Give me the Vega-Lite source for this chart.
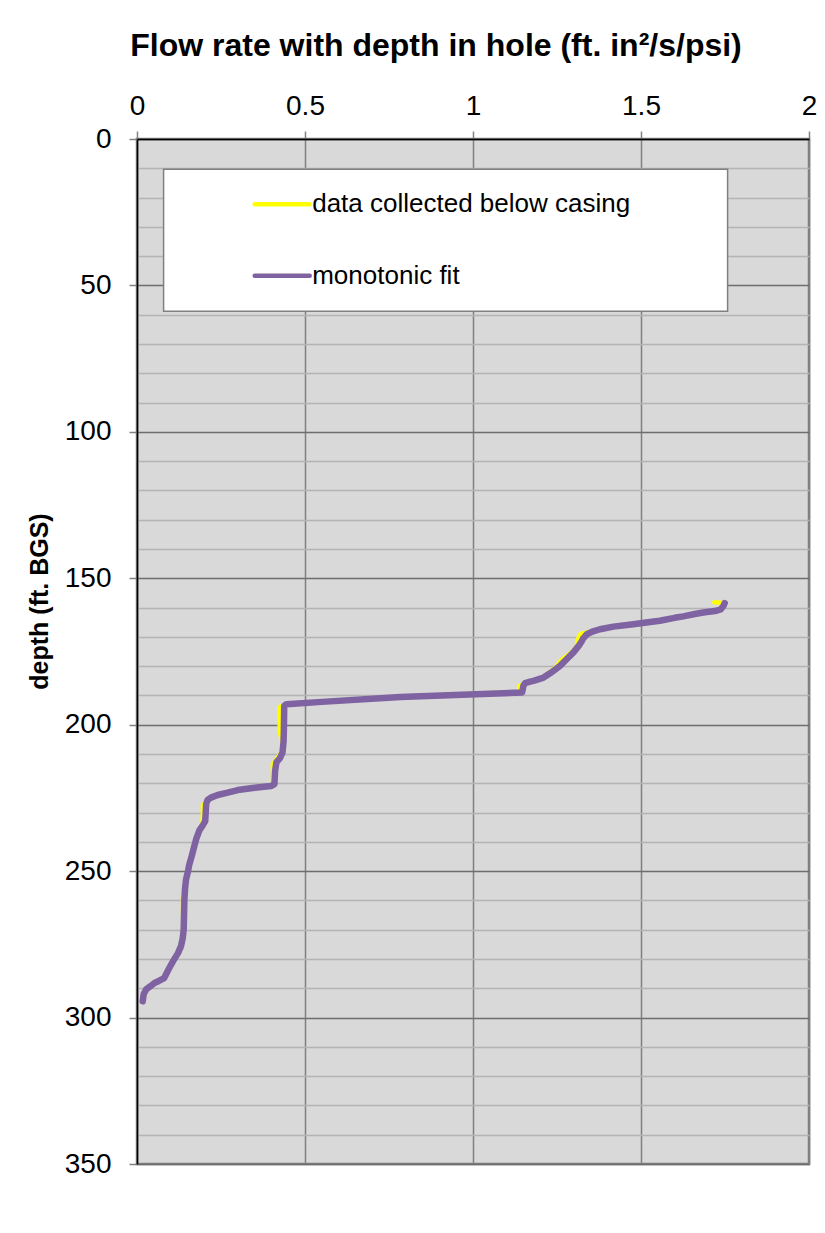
{
  "$schema": "https://vega.github.io/schema/vega-lite/v6.json",
  "autosize": {"type": "none"},
  "padding": {"left": 137, "top": 139, "right": 16, "bottom": 69},
  "width": 672,
  "height": 1025,
  "background": "white",
  "config": {
    "font": "Liberation Sans, Arial, sans-serif",
    "view": {"fill": "#D9D9D9", "stroke": "#808080", "strokeWidth": 2.5}
  },
  "title": {
    "text": "Flow rate with depth in hole (ft. in²/s/psi)",
    "fontSize": 32,
    "fontWeight": "bold",
    "color": "black",
    "anchor": "middle",
    "frame": "group",
    "baseline": "alphabetic",
    "offset": 4,
    "dx": -37
  },
  "data": {
    "values": [
      {"series": "data collected below casing", "depth": 158.2, "flow": 1.718},
      {"series": "data collected below casing", "depth": 158.4, "flow": 1.745},
      {"series": "data collected below casing", "depth": 159.5, "flow": 1.745},
      {"series": "data collected below casing", "depth": 160.6, "flow": 1.737},
      {"series": "data collected below casing", "depth": 161.2, "flow": 1.72},
      {"series": "data collected below casing", "depth": 161.6, "flow": 1.69},
      {"series": "data collected below casing", "depth": 162.2, "flow": 1.66},
      {"series": "data collected below casing", "depth": 163.0, "flow": 1.626},
      {"series": "data collected below casing", "depth": 164.5, "flow": 1.556},
      {"series": "data collected below casing", "depth": 165.7, "flow": 1.477},
      {"series": "data collected below casing", "depth": 166.5, "flow": 1.418},
      {"series": "data collected below casing", "depth": 167.4, "flow": 1.378},
      {"series": "data collected below casing", "depth": 168.2, "flow": 1.35},
      {"series": "data collected below casing", "depth": 169.0, "flow": 1.32},
      {"series": "data collected below casing", "depth": 171.4, "flow": 1.31},
      {"series": "data collected below casing", "depth": 173.0, "flow": 1.31},
      {"series": "data collected below casing", "depth": 175.3, "flow": 1.294},
      {"series": "data collected below casing", "depth": 178.0, "flow": 1.262},
      {"series": "data collected below casing", "depth": 180.2, "flow": 1.248},
      {"series": "data collected below casing", "depth": 183.9, "flow": 1.21},
      {"series": "data collected below casing", "depth": 185.3, "flow": 1.17},
      {"series": "data collected below casing", "depth": 186.8, "flow": 1.137},
      {"series": "data collected below casing", "depth": 188.8, "flow": 1.14},
      {"series": "data collected below casing", "depth": 190.5, "flow": 0.784},
      {"series": "data collected below casing", "depth": 193.0, "flow": 0.44},
      {"series": "data collected below casing", "depth": 194.0, "flow": 0.424},
      {"series": "data collected below casing", "depth": 202.3, "flow": 0.425},
      {"series": "data collected below casing", "depth": 206.0, "flow": 0.432},
      {"series": "data collected below casing", "depth": 209.5, "flow": 0.43},
      {"series": "data collected below casing", "depth": 213.5, "flow": 0.404},
      {"series": "data collected below casing", "depth": 217.0, "flow": 0.405},
      {"series": "data collected below casing", "depth": 220.9, "flow": 0.405},
      {"series": "data collected below casing", "depth": 222.3, "flow": 0.3},
      {"series": "data collected below casing", "depth": 224.9, "flow": 0.22},
      {"series": "data collected below casing", "depth": 227.5, "flow": 0.196},
      {"series": "data collected below casing", "depth": 230.5, "flow": 0.196},
      {"series": "data collected below casing", "depth": 234.5, "flow": 0.195},
      {"series": "data collected below casing", "depth": 239.1, "flow": 0.176},
      {"series": "data collected below casing", "depth": 244.8, "flow": 0.163},
      {"series": "data collected below casing", "depth": 252.8, "flow": 0.146},
      {"series": "data collected below casing", "depth": 258.6, "flow": 0.137},
      {"series": "data collected below casing", "depth": 264.0, "flow": 0.137},
      {"series": "data collected below casing", "depth": 269.9, "flow": 0.139},
      {"series": "data collected below casing", "depth": 275.6, "flow": 0.131},
      {"series": "data collected below casing", "depth": 280.8, "flow": 0.107},
      {"series": "data collected below casing", "depth": 286.5, "flow": 0.081},
      {"series": "data collected below casing", "depth": 288.2, "flow": 0.052},
      {"series": "data collected below casing", "depth": 290.4, "flow": 0.027},
      {"series": "data collected below casing", "depth": 294.4, "flow": 0.017},

      {"series": "monotonic fit", "depth": 158.5, "flow": 1.749},
      {"series": "monotonic fit", "depth": 159.5, "flow": 1.745},
      {"series": "monotonic fit", "depth": 160.6, "flow": 1.737},
      {"series": "monotonic fit", "depth": 161.2, "flow": 1.72},
      {"series": "monotonic fit", "depth": 161.6, "flow": 1.69},
      {"series": "monotonic fit", "depth": 162.2, "flow": 1.66},
      {"series": "monotonic fit", "depth": 163.0, "flow": 1.626},
      {"series": "monotonic fit", "depth": 163.5, "flow": 1.6},
      {"series": "monotonic fit", "depth": 164.5, "flow": 1.556},
      {"series": "monotonic fit", "depth": 165.2, "flow": 1.51},
      {"series": "monotonic fit", "depth": 165.7, "flow": 1.477},
      {"series": "monotonic fit", "depth": 166.5, "flow": 1.418},
      {"series": "monotonic fit", "depth": 167.4, "flow": 1.378},
      {"series": "monotonic fit", "depth": 168.2, "flow": 1.355},
      {"series": "monotonic fit", "depth": 169.1, "flow": 1.339},
      {"series": "monotonic fit", "depth": 170.5, "flow": 1.328},
      {"series": "monotonic fit", "depth": 171.4, "flow": 1.324},
      {"series": "monotonic fit", "depth": 173.0, "flow": 1.315},
      {"series": "monotonic fit", "depth": 175.3, "flow": 1.299},
      {"series": "monotonic fit", "depth": 177.5, "flow": 1.28},
      {"series": "monotonic fit", "depth": 179.9, "flow": 1.259},
      {"series": "monotonic fit", "depth": 182.0, "flow": 1.235},
      {"series": "monotonic fit", "depth": 183.9, "flow": 1.21},
      {"series": "monotonic fit", "depth": 185.0, "flow": 1.18},
      {"series": "monotonic fit", "depth": 185.3, "flow": 1.17},
      {"series": "monotonic fit", "depth": 185.8, "flow": 1.155},
      {"series": "monotonic fit", "depth": 186.7, "flow": 1.15},
      {"series": "monotonic fit", "depth": 188.0, "flow": 1.148},
      {"series": "monotonic fit", "depth": 189.0, "flow": 1.146},
      {"series": "monotonic fit", "depth": 190.5, "flow": 0.784},
      {"series": "monotonic fit", "depth": 192.2, "flow": 0.55},
      {"series": "monotonic fit", "depth": 193.0, "flow": 0.445},
      {"series": "monotonic fit", "depth": 193.6, "flow": 0.438},
      {"series": "monotonic fit", "depth": 195.0, "flow": 0.438},
      {"series": "monotonic fit", "depth": 202.6, "flow": 0.437},
      {"series": "monotonic fit", "depth": 206.0, "flow": 0.436},
      {"series": "monotonic fit", "depth": 209.5, "flow": 0.433},
      {"series": "monotonic fit", "depth": 211.5, "flow": 0.425},
      {"series": "monotonic fit", "depth": 212.8, "flow": 0.415},
      {"series": "monotonic fit", "depth": 215.8, "flow": 0.411},
      {"series": "monotonic fit", "depth": 220.3, "flow": 0.409},
      {"series": "monotonic fit", "depth": 220.9, "flow": 0.4},
      {"series": "monotonic fit", "depth": 221.5, "flow": 0.35},
      {"series": "monotonic fit", "depth": 222.3, "flow": 0.3},
      {"series": "monotonic fit", "depth": 223.2, "flow": 0.27},
      {"series": "monotonic fit", "depth": 224.0, "flow": 0.24},
      {"series": "monotonic fit", "depth": 224.9, "flow": 0.22},
      {"series": "monotonic fit", "depth": 225.7, "flow": 0.21},
      {"series": "monotonic fit", "depth": 227.0, "flow": 0.206},
      {"series": "monotonic fit", "depth": 232.9, "flow": 0.203},
      {"series": "monotonic fit", "depth": 234.5, "flow": 0.195},
      {"series": "monotonic fit", "depth": 236.0, "flow": 0.186},
      {"series": "monotonic fit", "depth": 239.1, "flow": 0.176},
      {"series": "monotonic fit", "depth": 244.8, "flow": 0.163},
      {"series": "monotonic fit", "depth": 248.0, "flow": 0.155},
      {"series": "monotonic fit", "depth": 250.0, "flow": 0.152},
      {"series": "monotonic fit", "depth": 252.8, "flow": 0.146},
      {"series": "monotonic fit", "depth": 256.0, "flow": 0.143},
      {"series": "monotonic fit", "depth": 259.7, "flow": 0.141},
      {"series": "monotonic fit", "depth": 265.0, "flow": 0.14},
      {"series": "monotonic fit", "depth": 269.9, "flow": 0.139},
      {"series": "monotonic fit", "depth": 273.0, "flow": 0.136},
      {"series": "monotonic fit", "depth": 275.6, "flow": 0.131},
      {"series": "monotonic fit", "depth": 278.0, "flow": 0.122},
      {"series": "monotonic fit", "depth": 280.8, "flow": 0.107},
      {"series": "monotonic fit", "depth": 283.5, "flow": 0.094},
      {"series": "monotonic fit", "depth": 286.5, "flow": 0.081},
      {"series": "monotonic fit", "depth": 287.5, "flow": 0.065},
      {"series": "monotonic fit", "depth": 288.2, "flow": 0.052},
      {"series": "monotonic fit", "depth": 289.3, "flow": 0.04},
      {"series": "monotonic fit", "depth": 290.4, "flow": 0.027},
      {"series": "monotonic fit", "depth": 292.0, "flow": 0.02},
      {"series": "monotonic fit", "depth": 294.4, "flow": 0.017}
    ]
  },
  "encoding": {
    "x": {
      "field": "flow",
      "type": "quantitative",
      "scale": {"domain": [0, 2], "nice": false, "zero": false},
      "axis": {
        "orient": "top",
        "title": null,
        "values": [0, 0.5, 1, 1.5, 2],
        "format": "~g",
        "labelFlush": false,
        "labelOverlap": false,
        "labelFontSize": 28,
        "labelColor": "black",
        "labelBaseline": "alphabetic",
        "labelPadding": 17,
        "tickSize": 8,
        "tickColor": "#808080",
        "tickWidth": 1.5,
        "domainColor": "black",
        "domainWidth": 1.5,
        "grid": true,
        "gridColor": "#808080",
        "gridWidth": 1.5,
        "gridOpacity": 1
      }
    },
    "y": {
      "field": "depth",
      "type": "quantitative",
      "scale": {"domain": [0, 350], "reverse": true, "nice": false, "zero": false},
      "axis": {
        "orient": "left",
        "title": "depth (ft. BGS)",
        "titleFontSize": 25,
        "titleFontWeight": "bold",
        "titleColor": "black",
        "titleAngle": 270,
        "titleAlign": "center",
        "titleBaseline": "middle",
        "titleX": -98,
        "titleY": 462,
        "values": [0, 10, 20, 30, 40, 50, 60, 70, 80, 90, 100, 110, 120, 130, 140, 150, 160, 170, 180, 190, 200, 210, 220, 230, 240, 250, 260, 270, 280, 290, 300, 310, 320, 330, 340, 350],
        "labelExpr": "datum.value % 50 === 0 ? datum.label : ''",
        "labelOverlap": false,
        "labelFontSize": 28,
        "labelColor": "black",
        "labelPadding": 18,
        "tickSize": 8,
        "tickColor": "#808080",
        "tickWidth": 1.5,
        "tickOpacity": {"condition": {"test": "datum.value % 50 === 0", "value": 1}, "value": 0},
        "domainColor": "black",
        "domainWidth": 1.5,
        "grid": true,
        "gridOpacity": 1,
        "gridColor": {"condition": {"test": "datum.value % 50 === 0", "value": "#6E6E6E"}, "value": "#B4B4B4"},
        "gridWidth": 1.5
      }
    },
    "order": {"field": "depth", "type": "quantitative"},
    "color": {
      "field": "series",
      "type": "nominal",
      "scale": {"domain": ["data collected below casing", "monotonic fit"], "range": ["#FFFF00", "#7F62A1"]},
      "legend": {
        "title": ".",
        "titleOrient": "right",
        "titleFontSize": 2,
        "titleColor": "white",
        "titlePadding": 76,
        "orient": "none",
        "legendX": 26.6,
        "legendY": 30.3,
        "direction": "vertical",
        "fillColor": "white",
        "strokeColor": "#808080",
        "padding": 20,
        "symbolType": "stroke",
        "symbolSize": 3025,
        "symbolStrokeWidth": 4.5,
        "symbolOffset": 68.6,
        "clipHeight": 30,
        "rowPadding": 41.4,
        "labelFontSize": 26,
        "labelColor": "black",
        "labelOffset": 0,
        "labelLimit": 0,
        "encode": {
          "legend": {"update": {"strokeWidth": {"value": 1.5}}},
          "symbols": {"update": {"strokeCap": {"value": "round"}}}
        }
      }
    }
  },
  "layer": [
    {
      "transform": [{"filter": "datum.series === 'data collected below casing'"}],
      "mark": {"type": "line", "strokeWidth": 4.5, "strokeCap": "round", "strokeJoin": "round"}
    },
    {
      "transform": [{"filter": "datum.series === 'monotonic fit'"}],
      "mark": {"type": "line", "strokeWidth": 6.5, "strokeCap": "round", "strokeJoin": "round"}
    }
  ]
}
